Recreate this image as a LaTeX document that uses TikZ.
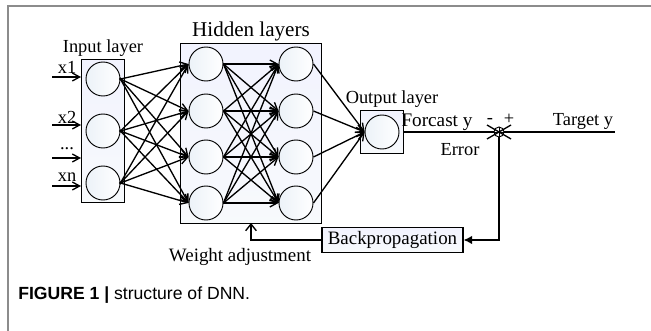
\documentclass[tikz,border=0pt]{standalone}
\usepackage{fontspec}
\setmainfont{Liberation Serif}
\newfontfamily\capfont{Liberation Sans}
\usetikzlibrary{positioning,calc,arrows.meta,fit}
\definecolor{boxfill}{RGB}{236,242,248}
\definecolor{framegray}{RGB}{140,140,140}
\tikzset{
  neuron/.style  = {circle, draw, line width=0.7pt, minimum size=25.5pt,
                    inner sep=0pt, left color=boxfill, right color=white},
  lbox/.style    = {draw, line width=0.8pt, top color=boxfill!80!blue!20,
                    bottom color=boxfill!40, inner sep=0pt},
  conn/.style    = {line width=1pt, -{Straight Barb[length=5.5pt,width=6pt]}},
  wire/.style    = {line width=1pt},
  lbl/.style     = {font=\fontsize{13.8}{15}\selectfont, inner sep=1pt},
  sdot/.style    = {circle, fill=black, inner sep=0pt, minimum size=2.4pt},
}

\begin{document}
\begin{tikzpicture}[x=0.75pt, y=-0.75pt]
  \useasboundingbox (0,0) rectangle (651,331);
  % frame of the figure
  \draw[framegray, line width=1.1pt] (8,331) -- (8,6) -- (651,6);

  % neurons
  \node[neuron] (i1) at (103,79) {};
  \node[neuron] (i2) at (103,131) {};
  \node[neuron] (i3) at (103,183) {};
  \foreach \r/\yy in {1/64,2/111,3/157,4/203} {
    \node[neuron] (a\r) at (206,\yy) {};
    \node[neuron] (b\r) at (296,\yy) {};
  }
  \node[neuron] (o) at (382,132) {};

  % layer boxes
  \node[lbox, fit=(i1)(i3), inner xsep=3pt, inner ysep=1.5pt] (inbox) {};
  \node[lbox, fit=(a1)(b4), inner xsep=6pt, inner ysep=2.5pt] (hbox) {};
  \node[lbox, fit=(o), inner sep=2.8pt] (obox) {};
  % redraw neurons over the boxes
  \foreach \n in {i1,i2,i3,a1,a2,a3,a4,b1,b2,b3,b4,o}
    \node[neuron] at (\n) {};

  \node[lbl] (tin)  at (103,48)  {Input layer};
  \node[lbl, font=\fontsize{15.8}{17}\selectfont] (thid) at (251,31) {Hidden layers};
  \node[lbl] (tout) at (392,99)  {Output layer};

  % inputs
  \coordinate (x1) at (52,77);
  \coordinate (x2) at (52,125);
  \coordinate (x3) at (52,158);
  \coordinate (x4) at (52,186);
  \draw[conn] (x1) -- (x1 -| inbox.west);
  \draw[conn] (x2) -- (x2 -| inbox.west);
  \draw[conn] (x3) -- (x3 -| inbox.west);
  \draw[conn] (x4) -- (x4 -| inbox.west);
  \node[lbl] at (67,67)  {x1};
  \node[lbl] at (67,117) {x2};
  \node[lbl] at (67,149) {...};
  \node[lbl] at (67,177) {xn};

  % connections
  \foreach \i in {1,2,3} {
    \node[sdot] at (i\i.east) {};
    \foreach \j in {1,2,3,4}
      \draw[conn] (i\i.east) -- (a\j.west);
  }
  \foreach \i in {1,2,3,4}
    \foreach \j in {1,2,3,4}
      \draw[conn] (a\i.east) -- (b\j.west);
  \foreach \i in {1,2,3,4}
    \draw[conn] (b\i.east) -- (o.west);

  % error and feedback
  \node[circle, draw, line width=0.7pt, inner sep=0pt, minimum size=7.5pt] (sum) at (499,132) {};
  \draw[line width=0.6pt] (sum.north) -- (sum.south) (sum.west) -- (sum.east);
  \draw[wire] ($(sum)+(-12,-7)$) -- ($(sum)+(12,7)$);
  \draw[wire] ($(sum)+(-12,7)$) -- ($(sum)+(12,-7)$);
  \coordinate (ty) at (615,132);
  \draw[wire] (obox.east) -- (sum.west);
  \draw[wire] (sum.east) -- (ty);
  \node[lbl, font=\fontsize{14.4}{16}\selectfont] (fy) at (437,122) {Forcast y};
  \node[lbl] (tgt) at (583,121) {Target y};
  \node[lbl] (err) at (460,150) {Error};
  \node[lbl] at (490,121) {-};
  \node[lbl] at (509,119) {+};

  \node[lbox, lbl, font=\fontsize{14.2}{16}\selectfont, minimum width=105.75pt,
        minimum height=18.75pt] (bp) at (392.5,240) {Backpropagation};
  \draw[wire, -{Latex[length=6.5pt,width=6.5pt]}] (sum.south) |- (bp.east);
  \coordinate (wa) at (251,223);
  \draw[wire, -{Straight Barb[length=5pt,width=8pt]}] (bp.west) -| (wa);
  \node[lbl, font=\fontsize{14.2}{16}\selectfont] (tw) at (240,257) {Weight adjustment};

  % caption
  \node[anchor=west, inner sep=0pt, font=\capfont\fontsize{13.2}{15}\selectfont] (cap) at (18,295)
    {\textbf{FIGURE 1 |} structure of DNN.};
\end{tikzpicture}
\end{document}
